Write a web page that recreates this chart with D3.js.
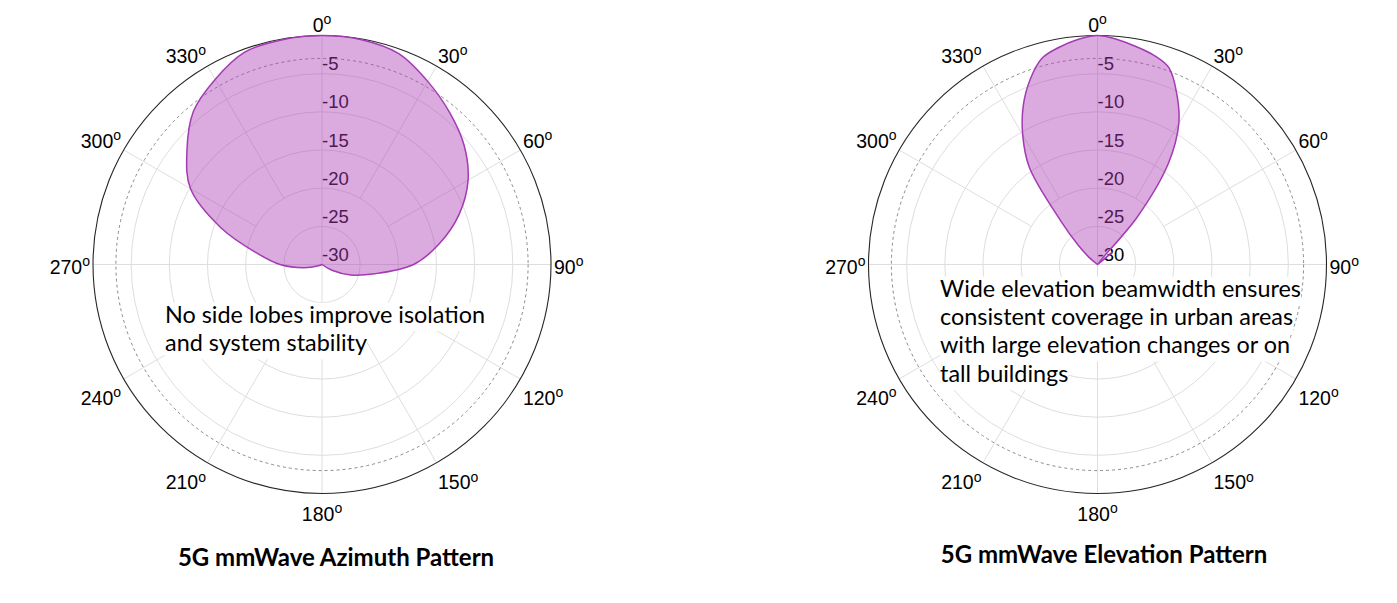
<!DOCTYPE html>
<html>
<head>
<meta charset="utf-8">
<script src="https://cdn.jsdelivr.net/npm/d3@7"></script>
<style>
  html, body { margin: 0; padding: 0; background: #fff; }
  svg { display: block; }
</style>
</head>
<body>
<svg id="chart" width="1397" height="603"></svg>
<script>
// ---------------- DATA ----------------
const angleTicks = [0, 30, 60, 90, 120, 150, 180, 210, 240, 270, 300, 330];
const radialTicks = [-5, -10, -15, -20, -25, -30];
const gridCircles = [-5, -10, -15, -20, -25];
const halfPowerLevel = -3;

const azAngles = [0, 10, 20, 30, 40, 50, 60, 70, 80, 90, 100, 110, 120, 130, 140, 150, 160, 170,
  180, 190, 200, 210, 220, 230, 240, 250, 260, 270, 280, 290, 300, 310, 320, 330, 340, 350];
const azGain = [0, -0.1, -0.6, -2.3, -4.0, -5.7, -7.9, -10.9, -14.4, -18.0, -23.0, -26.0, -28.5, -30, -30, -30, -30, -30,
  -30, -30, -30, -30, -30, -30, -30, -29.5, -27.6, -24.5, -21.3, -15.9, -10.1, -6.9, -3.8, -2.0, -0.4, -0.1];

const elAngles = [0, 5, 10, 15, 20, 25, 30, 35, 40, 45, 50, 55, 60, 65, 70, 75, 80, 85, 90, 95, 100, 105, 110, 115,
  120, 125, 130, 135, 140, 145, 150, 155, 160, 165, 170, 175, 180, 185, 190, 195, 200, 205, 210, 215, 220, 225, 230, 235,
  240, 245, 250, 255, 260, 265, 270, 275, 280, 285, 290, 295, 300, 305, 310, 315, 320, 325, 330, 335, 340, 345, 350, 355];
const elGain = [0, -0.4, -1.0, -1.6, -2.6, -5.4, -8.7, -13.8, -22.0, -30, -27.5, -30, -30, -30, -30, -30, -30, -30, -30, -30, -30, -30, -30, -30,
  -30, -30, -30, -30, -30, -30, -30, -30, -30, -30, -30, -30, -30, -30, -30, -30, -30, -30, -30, -30, -30, -30, -30, -30,
  -30, -30, -30, -30, -30, -30, -30, -30, -30, -30, -30, -30, -30, -30, -28.6, -26.4, -22.4, -14.4, -10.4, -7.0, -4.2, -2.0, -1.1, -0.4];

const titles = ["5G mmWave Azimuth Pattern", "5G mmWave Elevation Pattern"];
const notes = [
  ["No side lobes improve isolation", "and system stability"],
  ["Wide elevation beamwidth ensures", "consistent coverage in urban areas", "with large elevation changes or on", "tall buildings"]
];

// ---------------- LAYOUT ----------------
const svg = d3.select("#chart");
const R = 229;
const panels = [
  { cx: 322, cy: 264.5, angles: azAngles, gain: azGain, title: titles[0], tx: 336, ty: 566, note: notes[0], nx: 165, ny: 322.7 },
  { cx: 1097.5, cy: 264.5, angles: elAngles, gain: elGain, title: titles[1], tx: 1104, ty: 563, note: notes[1], nx: 940, ny: 296.7 }
];
const rScale = d3.scaleLinear().domain([-30, 0]).range([0, R]).clamp(true);
const rad = d => d * Math.PI / 180;
const tickFont = "'Liberation Sans', Arial, Helvetica, sans-serif";
const latoFont = "Lato, 'Open Sans', sans-serif";

panels.forEach(p => {
  const g = svg.append("g").attr("transform", `translate(${p.cx},${p.cy})`);

  // grid circles
  g.selectAll("circle.grid").data(gridCircles).join("circle")
    .attr("r", d => rScale(d)).attr("fill", "none")
    .attr("stroke", "#dedede").attr("stroke-width", 1);

  // radial spokes
  g.selectAll("line.spoke").data(angleTicks).join("line")
    .attr("x1", d => (d % 90 === 0 ? 0 : R / 3) * Math.sin(rad(d)))
    .attr("y1", d => -(d % 90 === 0 ? 0 : R / 3) * Math.cos(rad(d)))
    .attr("x2", d => R * Math.sin(rad(d)))
    .attr("y2", d => -R * Math.cos(rad(d)))
    .attr("stroke", "#dedede").attr("stroke-width", 1);

  // -3 dB dashed circle
  g.append("circle").attr("r", rScale(halfPowerLevel)).attr("fill", "none")
    .attr("stroke", "#8a8a8a").attr("stroke-width", 1).attr("stroke-dasharray", "3,3");

  // outer circle
  g.append("circle").attr("r", R).attr("fill", "none")
    .attr("stroke", "#262626").attr("stroke-width", 1.1);

  // radial tick labels
  g.selectAll("text.rt").data(radialTicks).join("text")
    .attr("x", 0).attr("y", d => -rScale(d) - 3.5)
    .attr("font-family", tickFont).attr("font-size", 18.5).attr("fill", "#000")
    .text(d => d);

  // pattern
  const pts = p.angles.map((a, i) => [rad(a), rScale(p.gain[i])]);
  const line = d3.lineRadial().angle(d => d[0]).radius(d => d[1])
    .curve(d3.curveCatmullRomClosed.alpha(0.5));
  g.append("path").attr("d", line(pts))
    .attr("fill", "rgb(172,62,182)").attr("fill-opacity", 0.44)
    .attr("stroke", "#a33bb3").attr("stroke-width", 1.5).attr("stroke-linejoin", "round");

  // angle labels
  angleTicks.forEach(a => {
    const s = Math.sin(rad(a)), c = Math.cos(rad(a));
    const rr = R + 3;
    const x = rr * s, y = -rr * c;
    let anchor = Math.abs(s) < 0.01 ? "middle" : (s > 0 ? "start" : "end");
    let by;
    if (c > 0.01) by = y - 1;
    else if (c < -0.01) by = y + 24;
    else by = y + 9;
    const t = g.append("text").attr("x", x).attr("y", by)
      .attr("text-anchor", anchor).attr("font-family", tickFont)
      .attr("font-size", 19.5).attr("fill", "#000");
    t.append("tspan").text(a);
    t.append("tspan").attr("font-size", 14).attr("dy", -7.5).text("o");
  });

  // annotation (each line with its own white backing)
  const ng = svg.append("g");
  p.note.forEach((l, i) => {
    const t = ng.append("text").attr("x", p.nx).attr("y", p.ny + i * 28.3)
      .attr("font-family", latoFont).attr("font-size", 23.4).attr("fill", "#000").text(l);
    const bb = t.node().getBBox();
    ng.insert("rect", "text").attr("x", bb.x).attr("y", p.ny + i * 28.3 - 20)
      .attr("width", bb.width).attr("height", 28.3).attr("fill", "#fff");
  });

  // title
  svg.append("text").attr("x", p.tx).attr("y", p.ty).attr("text-anchor", "middle")
    .attr("font-family", latoFont).attr("font-weight", 700).attr("font-size", 24)
    .attr("fill", "#000").text(p.title);
});
</script>
</body>
</html>
